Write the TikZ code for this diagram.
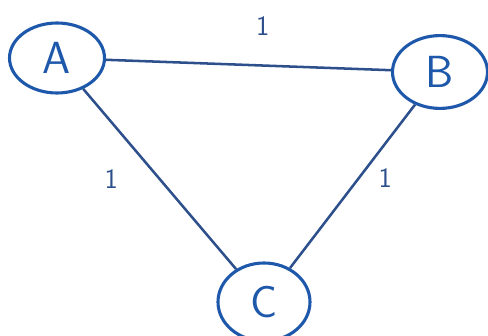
\documentclass[tikz,border=0pt]{standalone}
\usetikzlibrary{shapes.geometric}
\definecolor{nodeblue}{RGB}{30,88,170}
\definecolor{edgeblue}{RGB}{45,80,140}
\tikzset{
	vertex/.style={ellipse, draw=nodeblue, line width=2.2pt, text=nodeblue, font=\sffamily\fontsize{32}{32}\selectfont},
	edge/.style={draw=edgeblue, line width=1.8pt},
	weight/.style={text=edgeblue, font=\sffamily\fontsize{20}{20}\selectfont}
}
\begin{document}
\begin{tikzpicture}
\useasboundingbox (0,0) rectangle (12.2,-8.4);
\node[vertex, minimum width=2.375cm, minimum height=1.75cm] (A) at (1.425,-1.45) {A};
\node[vertex, minimum width=2.375cm, minimum height=1.82cm] (B) at (11.0,-1.8) {B};
\node[vertex, minimum width=2.3cm, minimum height=1.95cm] (C) at (6.6,-7.55) {C};
\draw[edge] (A) -- (B) node[weight, pos=0.55, above=0.6cm] {1};
\draw[edge] (A) -- (C) node[weight, pos=0.5, left=0.9cm] {1};
\draw[edge] (B) -- (C) node[weight, pos=0.45, right=0.35cm] {1};
\end{tikzpicture}
\end{document}
